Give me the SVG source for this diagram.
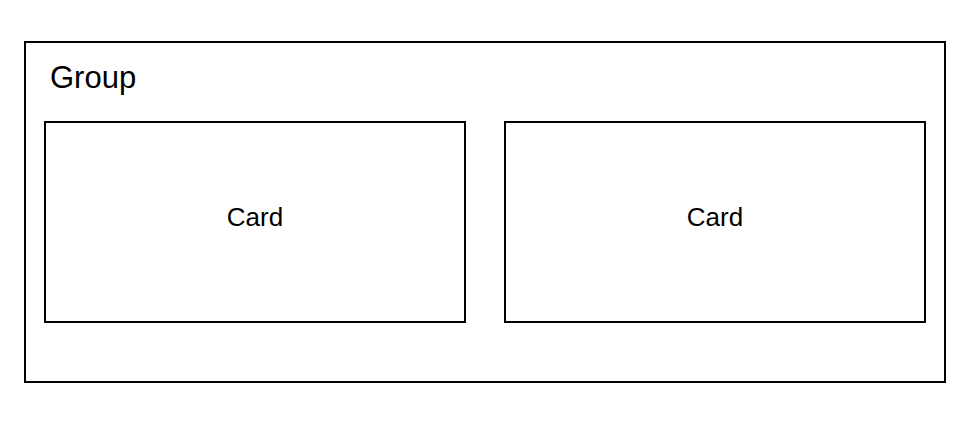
<svg xmlns="http://www.w3.org/2000/svg" width="971" height="422" viewBox="0 0 971 422">
<style>
.box{fill:#fff;stroke:#000;stroke-width:2}
.lbl{font-family:"Liberation Sans",Arial,sans-serif;fill:#000}
</style>
<rect width="971" height="422" fill="#fff"/>
<g id="group">
<rect class="box" x="25" y="42" width="920" height="340"/>
<text class="lbl" x="50" y="88" font-size="31">Group</text>
</g>
<g id="card1">
<rect class="box" x="45" y="122" width="420" height="200"/>
<text class="lbl" x="255" y="226" font-size="26" text-anchor="middle">Card</text>
</g>
<g id="card2">
<rect class="box" x="505" y="122" width="420" height="200"/>
<text class="lbl" x="715" y="226" font-size="26" text-anchor="middle">Card</text>
</g>
<g id="connectors"></g>
</svg>
